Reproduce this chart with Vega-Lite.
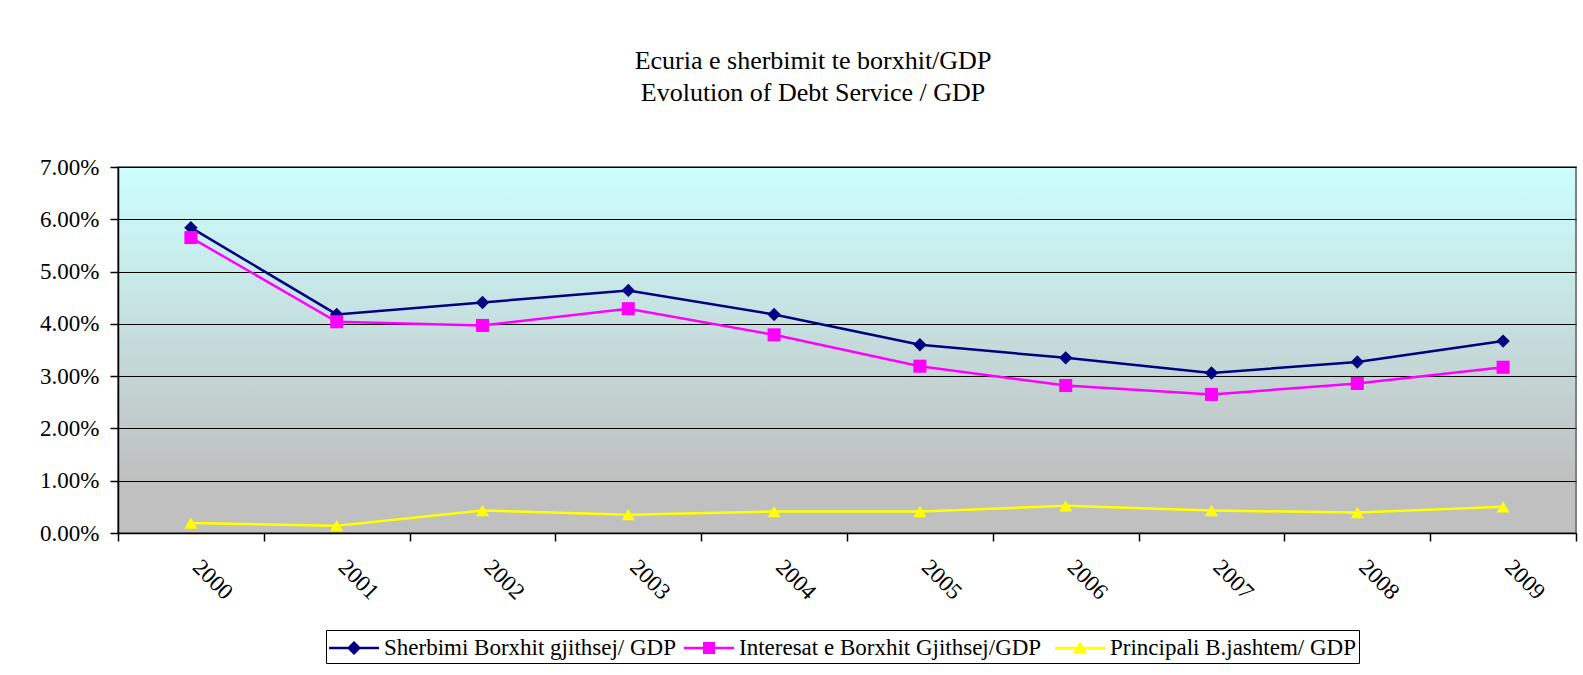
{
  "$schema": "https://vega.github.io/schema/vega-lite/v6.json",
  "width": 1458,
  "height": 366,
  "autosize": "none",
  "padding": {"left": 118, "top": 167, "right": 7, "bottom": 142},
  "background": "white",
  "title": {
    "text": ["Ecuria e sherbimit te borxhit/GDP", "Evolution of Debt Service / GDP"],
    "font": "Liberation Serif",
    "fontSize": 26,
    "fontWeight": "normal",
    "color": "black",
    "anchor": "middle",
    "offset": 50,
    "dx": -34,
    "lineHeight": 32
  },
  "data": {
    "values": [
      {"year": "2000", "series": "Sherbimi Borxhit gjithsej/ GDP", "value": 0.0584},
      {"year": "2001", "series": "Sherbimi Borxhit gjithsej/ GDP", "value": 0.0418},
      {"year": "2002", "series": "Sherbimi Borxhit gjithsej/ GDP", "value": 0.0441},
      {"year": "2003", "series": "Sherbimi Borxhit gjithsej/ GDP", "value": 0.0464},
      {"year": "2004", "series": "Sherbimi Borxhit gjithsej/ GDP", "value": 0.0418},
      {"year": "2005", "series": "Sherbimi Borxhit gjithsej/ GDP", "value": 0.0360},
      {"year": "2006", "series": "Sherbimi Borxhit gjithsej/ GDP", "value": 0.0335},
      {"year": "2007", "series": "Sherbimi Borxhit gjithsej/ GDP", "value": 0.0306},
      {"year": "2008", "series": "Sherbimi Borxhit gjithsej/ GDP", "value": 0.0327},
      {"year": "2009", "series": "Sherbimi Borxhit gjithsej/ GDP", "value": 0.0367},
      {"year": "2000", "series": "Interesat e  Borxhit Gjithsej/GDP", "value": 0.0565},
      {"year": "2001", "series": "Interesat e  Borxhit Gjithsej/GDP", "value": 0.0404},
      {"year": "2002", "series": "Interesat e  Borxhit Gjithsej/GDP", "value": 0.0397},
      {"year": "2003", "series": "Interesat e  Borxhit Gjithsej/GDP", "value": 0.0429},
      {"year": "2004", "series": "Interesat e  Borxhit Gjithsej/GDP", "value": 0.0379},
      {"year": "2005", "series": "Interesat e  Borxhit Gjithsej/GDP", "value": 0.0319},
      {"year": "2006", "series": "Interesat e  Borxhit Gjithsej/GDP", "value": 0.0282},
      {"year": "2007", "series": "Interesat e  Borxhit Gjithsej/GDP", "value": 0.0265},
      {"year": "2008", "series": "Interesat e  Borxhit Gjithsej/GDP", "value": 0.0286},
      {"year": "2009", "series": "Interesat e  Borxhit Gjithsej/GDP", "value": 0.0317},
      {"year": "2000", "series": "Principali B.jashtem/ GDP", "value": 0.0019},
      {"year": "2001", "series": "Principali B.jashtem/ GDP", "value": 0.0014},
      {"year": "2002", "series": "Principali B.jashtem/ GDP", "value": 0.0043},
      {"year": "2003", "series": "Principali B.jashtem/ GDP", "value": 0.0035},
      {"year": "2004", "series": "Principali B.jashtem/ GDP", "value": 0.0041},
      {"year": "2005", "series": "Principali B.jashtem/ GDP", "value": 0.0041},
      {"year": "2006", "series": "Principali B.jashtem/ GDP", "value": 0.0052},
      {"year": "2007", "series": "Principali B.jashtem/ GDP", "value": 0.0043},
      {"year": "2008", "series": "Principali B.jashtem/ GDP", "value": 0.0039},
      {"year": "2009", "series": "Principali B.jashtem/ GDP", "value": 0.0050}
    ]
  },
  "encoding": {
    "x": {
      "field": "year",
      "type": "ordinal",
      "scale": {"type": "band", "paddingInner": 0, "paddingOuter": 0},
      "axis": {
        "title": null,
        "tickBand": "extent",
        "labelAngle": 45,
        "labelAlign": "left",
        "labelBaseline": "middle",
        "labelPadding": 22,
        "labelOffset": 5,
        "labelFont": "Liberation Serif",
        "labelFontSize": 23,
        "labelColor": "black",
        "domainColor": "black",
        "domainWidth": 1.5,
        "tickColor": "black",
        "tickSize": 8,
        "tickWidth": 1.5,
        "grid": false
      }
    },
    "y": {
      "field": "value",
      "type": "quantitative",
      "scale": {"domain": [0, 0.07], "nice": false},
      "axis": {
        "title": null,
        "values": [0, 0.01, 0.02, 0.03, 0.04, 0.05, 0.06, 0.07],
        "format": ".2%",
        "grid": true,
        "gridColor": "black",
        "gridWidth": 1,
        "gridOpacity": 1,
        "labelFont": "Liberation Serif",
        "labelFontSize": 23,
        "labelColor": "black",
        "labelPadding": 11,
        "domainColor": "black",
        "domainWidth": 1.5,
        "tickColor": "black",
        "tickSize": 8,
        "tickWidth": 1.5
      }
    },
    "color": {
      "field": "series",
      "type": "nominal",
      "scale": {
        "domain": ["Sherbimi Borxhit gjithsej/ GDP", "Interesat e  Borxhit Gjithsej/GDP", "Principali B.jashtem/ GDP"],
        "range": ["#000080", "#FF00FF", "#FFFF00"]
      },
      "legend": null
    }
  },
  "resolve": {"legend": {"color": "independent", "shape": "independent"}},
  "layer": [
    {"mark": {"type": "line", "strokeWidth": 2.5}},
    {
      "transform": [{"filter": "datum.series === 'Sherbimi Borxhit gjithsej/ GDP'"}],
      "mark": {"type": "point", "shape": "diamond", "filled": true, "opacity": 1, "size": 180}
    },
    {
      "transform": [{"filter": "datum.series === 'Interesat e  Borxhit Gjithsej/GDP'"}],
      "mark": {"type": "point", "shape": "square", "filled": true, "opacity": 1, "size": 170}
    },
    {
      "transform": [{"filter": "datum.series === 'Principali B.jashtem/ GDP'"}],
      "mark": {"type": "point", "shape": "triangle-up", "filled": true, "opacity": 1, "size": 170}
    },
    {
      "mark": {"type": "point", "filled": true, "opacity": 0, "size": 10},
      "encoding": {
        "color": {
          "field": "series",
          "type": "nominal",
          "legend": {
            "orient": "none",
            "legendX": 208,
            "legendY": 463,
            "direction": "horizontal",
            "title": null,
            "strokeColor": "black",
            "padding": 3,
            "labelFont": "Liberation Serif",
            "labelFontSize": 23,
            "labelColor": "black",
            "labelLimit": 500,
            "labelOffset": 25,
            "symbolSize": 900,
            "symbolOpacity": 1,
            "symbolStrokeWidth": 0,
            "columnPadding": 8
          }
        },
        "shape": {
          "field": "series",
          "type": "nominal",
          "scale": {
            "domain": ["Sherbimi Borxhit gjithsej/ GDP", "Interesat e  Borxhit Gjithsej/GDP", "Principali B.jashtem/ GDP"],
            "range": [
              "M-1,-0.08H2.333V0.08H-1Z M0.667,-0.47L1.137,0L0.667,0.47L0.197,0Z",
              "M-1,-0.08H2.333V0.08H-1Z M0.267,-0.4H1.067V0.4H0.267Z",
              "M-1,-0.08H2.333V0.08H-1Z M0.667,-0.45L1.137,0.37L0.197,0.37Z"
            ]
          },
          "legend": null
        }
      }
    }
  ],
  "config": {
    "view": {
      "fill": {
        "gradient": "linear",
        "x1": 0, "y1": 0, "x2": 0, "y2": 1,
        "stops": [
          {"offset": 0, "color": "#CCFFFF"},
          {"offset": 0.85, "color": "#C0C0C0"},
          {"offset": 1, "color": "#C0C0C0"}
        ]
      },
      "stroke": "#808080",
      "strokeWidth": 2
    }
  }
}
